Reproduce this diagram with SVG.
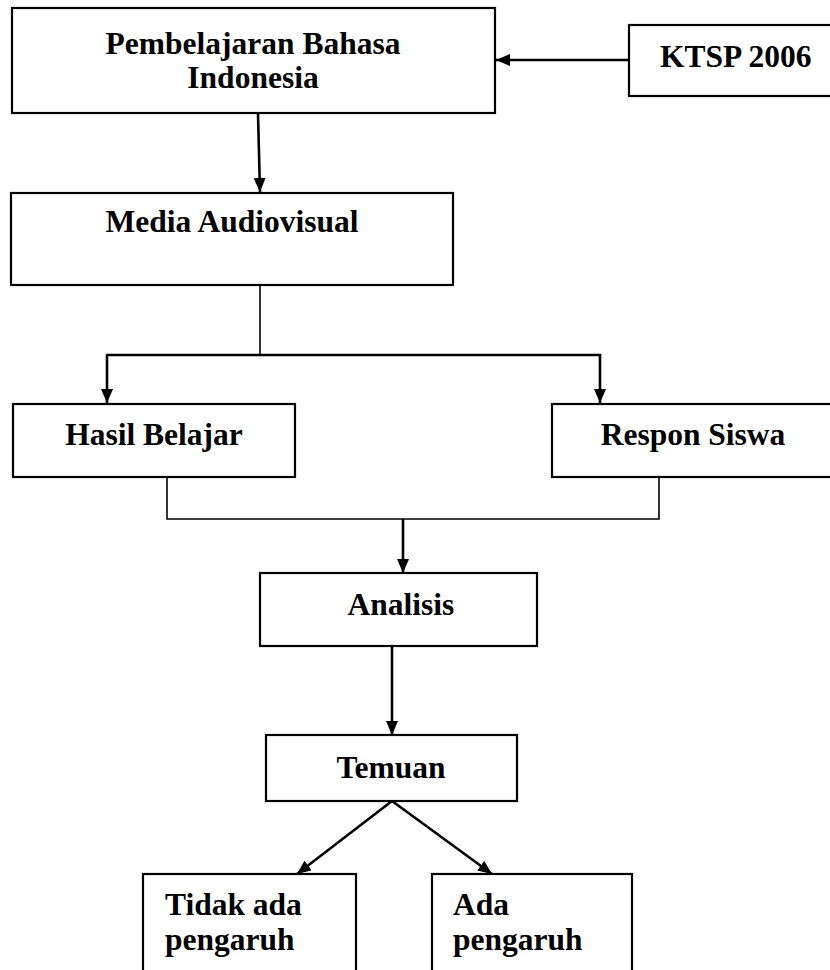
<svg xmlns="http://www.w3.org/2000/svg" width="830" height="970" viewBox="0 0 830 970">
<style>
.box{fill:#fff;stroke:#000;stroke-width:2.2}
.t{font-family:"Liberation Serif","Times New Roman",serif;font-weight:bold;font-size:31.5px;fill:#000}
.c{text-anchor:middle}
.ln{fill:none;stroke:#000;stroke-width:2.6}
.thin{fill:none;stroke:#000;stroke-width:1.6}
</style>
<defs>
<marker id="ah" viewBox="0 0 14 12" refX="14" refY="6" markerWidth="14" markerHeight="12" markerUnits="userSpaceOnUse" orient="auto">
<path d="M0,0 L14,6 L0,12 Z" fill="#000"/>
</marker>
</defs>
<rect width="830" height="970" fill="#fff"/>
<g id="connectors">
<line class="ln" x1="629" y1="60" x2="496" y2="60" marker-end="url(#ah)"/>
<line class="ln" x1="258" y1="114" x2="260" y2="192" marker-end="url(#ah)"/>
<polyline class="thin" points="260,285 260,355"/>
<polyline class="ln" points="107,355 600,355 600,403" stroke-width="2.2" marker-end="url(#ah)"/>
<line class="ln" x1="107" y1="354" x2="107" y2="403" stroke-width="2.2" marker-end="url(#ah)"/>
<polyline class="thin" points="167,477 167,519 659,519 659,477"/>
<line class="ln" x1="403" y1="519" x2="403" y2="573" marker-end="url(#ah)"/>
<line class="ln" x1="392" y1="646" x2="392" y2="735" marker-end="url(#ah)"/>
<line class="ln" x1="392" y1="801" x2="297" y2="874" marker-end="url(#ah)"/>
<line class="ln" x1="392" y1="801" x2="492" y2="874" marker-end="url(#ah)"/>
</g>
<g id="node-pembelajaran">
<rect class="box" x="12" y="8" width="483" height="105"/>
<text class="t c" x="253" y="54">Pembelajaran Bahasa</text>
<text class="t c" x="253" y="88">Indonesia</text>
</g>
<g id="node-ktsp">
<rect class="box" x="629" y="25" width="215" height="71"/>
<text class="t" x="660" y="67">KTSP 2006</text>
</g>
<g id="node-media">
<rect class="box" x="11" y="193" width="442" height="92"/>
<text class="t c" x="232" y="232">Media Audiovisual</text>
</g>
<g id="node-hasil">
<rect class="box" x="13" y="404" width="282" height="73"/>
<text class="t c" x="154" y="445">Hasil Belajar</text>
</g>
<g id="node-respon">
<rect class="box" x="552" y="404" width="290" height="73"/>
<text class="t c" x="693" y="445">Respon Siswa</text>
</g>
<g id="node-analisis">
<rect class="box" x="260" y="573" width="277" height="73"/>
<text class="t c" x="401" y="615">Analisis</text>
</g>
<g id="node-temuan">
<rect class="box" x="266" y="735" width="251" height="66"/>
<text class="t c" x="391" y="778">Temuan</text>
</g>
<g id="node-tidak">
<rect class="box" x="143" y="874" width="213" height="110"/>
<text class="t" x="165" y="915">Tidak ada</text>
<text class="t" x="165" y="950">pengaruh</text>
</g>
<g id="node-ada">
<rect class="box" x="432" y="874" width="200" height="110"/>
<text class="t" x="453" y="915">Ada</text>
<text class="t" x="453" y="950">pengaruh</text>
</g>
</svg>
